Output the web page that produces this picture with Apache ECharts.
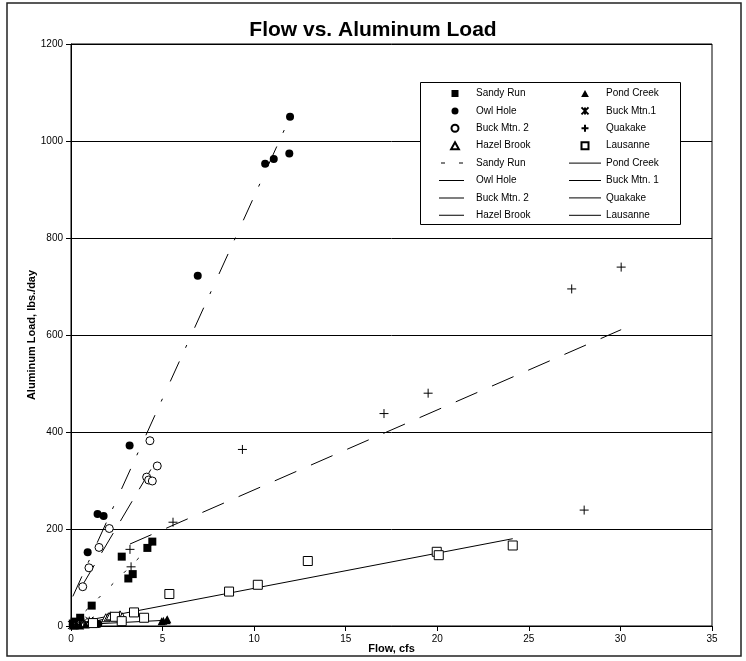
<!DOCTYPE html>
<html>
<head>
<meta charset="utf-8">
<script src="https://cdn.jsdelivr.net/npm/echarts@6/dist/echarts.min.js"></script>
<style>
  html, body { margin: 0; padding: 0; background: #fff; }
  #chart { width: 746px; height: 661px; }
</style>
</head>
<body>
<div id="chart"></div>
<script>
// Axis ticks
const flowTicks = [0, 5, 10, 15, 20, 25, 30, 35];
const loadTicks = [0, 200, 400, 600, 800, 1000, 1200];

// Station samples: [flow (cfs), aluminum load (lbs./day)]
const sandyRun   = [[0.1, 5], [0.2, 9], [0.3, 3], [0.5, 17], [1.13, 42], [2.77, 143], [3.13, 98], [3.37, 107], [4.17, 161], [4.44, 174]];
const owlHole    = [[0.1, 3], [0.3, 6], [1.49, 4], [0.91, 152], [1.45, 231], [1.78, 227], [3.2, 372], [6.92, 722], [10.6, 953], [11.07, 963], [11.92, 974], [11.96, 1050]];
const buckMtn2   = [[0.64, 81], [0.98, 120], [1.53, 162], [2.09, 201], [4.13, 307], [4.24, 301], [4.31, 382], [4.44, 299], [4.71, 330]];
const hazelBrook = [[0.2, 2], [0.4, 4], [0.7, 5], [1.0, 7], [1.22, 9], [1.9, 17], [2.04, 19], [2.15, 21], [2.68, 23], [2.8, 19]];
const pondCreek  = [[0.1, 1], [0.3, 2], [0.5, 1], [0.8, 3], [4.95, 10], [5.04, 11], [5.22, 12], [5.26, 14]];
const buckMtn1   = [[0.05, 2], [0.15, 4], [0.3, 7], [0.45, 5], [0.7, 9], [1.0, 11]];
const quakake    = [[3.22, 158], [3.28, 122], [5.57, 214], [9.36, 364], [17.09, 438], [19.5, 480], [27.34, 695], [28.02, 239], [30.04, 740]];
const lausanne   = [[1.2, 6], [2.4, 19], [2.77, 10], [3.44, 28], [3.99, 17], [5.37, 66], [8.63, 71], [10.2, 85], [12.93, 134], [19.97, 153], [20.08, 146], [24.12, 166]];

// Linear trend lines: [start, end] as [flow, load]
const sandyRunTrend   = [[0.1, 5], [4.44, 168]];
const owlHoleTrend    = [[0.1, 61], [11.96, 1049]];
const buckMtn2Trend   = [[0.64, 85], [4.71, 345]];
const hazelBrookTrend = [[0.2, 1], [2.8, 22]];
const pondCreekTrend  = [[0.1, 2], [5.26, 12]];
const buckMtn1Trend   = [[0.05, 3], [1.0, 10]];
const quakakeTrend    = [[3.22, 169], [30.04, 611]];
const lausanneTrend   = [[1.2, 14], [24.12, 180]];

const FONT = '"Liberation Sans", Arial, Helvetica, sans-serif';
const TREND = '~';   // suffix that keeps trend series names distinct in the legend

// Marker shapes
const STAR   = 'path://M0,0L10,10M10,0L0,10M5,0L5,10';
const PLUS   = 'path://M5,0L5,10M0,5L10,5';
const SQUARE = 'path://M0,0h10v10h-10z';
const DISC   = 'path://M0,5a5,5 0 1,0 10,0a5,5 0 1,0 -10,0z';
const TRI    = 'path://M5,0L10,9L0,9z';

// Legend line samples (thin bars; zero-width slivers pad the sample box)
const SAMPLE_SHORT  = 'path://M0,0h25v1h-25zM31.99,0h0.01v1h-0.01z';
const SAMPLE_LONG   = 'path://M0,0h32v1h-32z';
const SAMPLE_DASHED = 'path://M0,0h0.01v1h-0.01zM2,0h4v1h-4zM20,0h4v1h-4zM31.99,0h0.01v1h-0.01z';

const markers = [
  { name: 'Sandy Run',   data: sandyRun,   symbol: 'rect',     size: 8, fill: '#000', icon: SQUARE },
  { name: 'Owl Hole',    data: owlHole,    symbol: 'circle',   size: 8, fill: '#000', icon: DISC },
  { name: 'Buck Mtn. 2', data: buckMtn2,   symbol: 'circle',   size: 8, fill: '#fff', icon: DISC },
  { name: 'Hazel Brook', data: hazelBrook, symbol: 'triangle', size: 8, fill: '#fff', icon: TRI },
  { name: 'Pond Creek',  data: pondCreek,  symbol: 'triangle', size: 8, fill: '#000', icon: TRI },
  { name: 'Buck Mtn.1',  data: buckMtn1,   symbol: STAR,       size: 8, fill: 'rgba(0,0,0,0)', icon: STAR },
  { name: 'Quakake',     data: quakake,    symbol: PLUS,       size: 9, fill: 'rgba(0,0,0,0)', icon: PLUS },
  { name: 'Lausanne',    data: lausanne,   symbol: 'rect',     size: 9, fill: '#fff', icon: SQUARE }
];

const trends = [
  { name: 'Sandy Run',   data: sandyRunTrend,   dash: [3, 15],          icon: SAMPLE_DASHED },
  { name: 'Owl Hole',    data: owlHoleTrend,    dash: [22, 15, 3, 19],  icon: SAMPLE_SHORT },
  { name: 'Buck Mtn. 2', data: buckMtn2Trend,   dash: [23, 14],         icon: SAMPLE_SHORT },
  { name: 'Hazel Brook', data: hazelBrookTrend, dash: 'solid',          icon: SAMPLE_SHORT },
  { name: 'Pond Creek',  data: pondCreekTrend,  dash: 'solid',          icon: SAMPLE_LONG },
  { name: 'Buck Mtn. 1', data: buckMtn1Trend,   dash: 'solid',          icon: SAMPLE_LONG },
  { name: 'Quakake',     data: quakakeTrend,    dash: [23.5, 16],       icon: SAMPLE_LONG },
  { name: 'Lausanne',    data: lausanneTrend,   dash: 'solid',          icon: SAMPLE_LONG }
];

const series = [];
trends.forEach(t => series.push({
  name: t.name + TREND,
  type: 'line',
  data: t.data,
  symbol: 'none',
  silent: true,
  z: 3,
  lineStyle: { color: '#000', width: 1, type: t.dash },
  itemStyle: { color: '#000', borderWidth: 0 }
}));
markers.forEach(m => series.push({
  name: m.name,
  type: 'scatter',
  data: m.data,
  symbol: m.symbol,
  symbolSize: m.size,
  z: 4,
  itemStyle: { color: m.fill, borderColor: '#000', borderWidth: m.fill === '#000' ? 0 : 1, opacity: 1 }
}));

const legendItem = (entry, isTrend) => ({
  name: isTrend ? entry.name + TREND : entry.name,
  icon: entry.icon
});

const legendBase = {
  orient: 'vertical',
  selectedMode: false,
  padding: 0,
  itemWidth: 32,
  itemHeight: 7,
  itemGap: 7.4,
  symbolKeepAspect: true,
  z: 6,
  textStyle: { fontFamily: FONT, fontSize: 10, color: '#000' },
  formatter: n => n.replace(TREND, '')
};

const chart = echarts.init(document.getElementById('chart'), null, { renderer: 'canvas' });
chart.setOption({
  animation: false,
  backgroundColor: '#fff',
  title: {
    text: 'Flow vs. Aluminum Load',
    left: 'center',
    top: 20,
    padding: 0,
    textStyle: { fontFamily: FONT, fontSize: 21, fontWeight: 'bold', color: '#000' }
  },
  grid: {
    left: 71, top: 44, width: 641, height: 582,
    outerBoundsMode: 'none',
    show: true, borderColor: '#000', borderWidth: 1, backgroundColor: '#fff'
  },
  xAxis: {
    type: 'value',
    min: flowTicks[0], max: flowTicks[flowTicks.length - 1], interval: flowTicks[1] - flowTicks[0],
    name: 'Flow, cfs', nameLocation: 'middle', nameGap: 17, nameMoveOverlap: false,
    nameTextStyle: { fontFamily: FONT, fontSize: 11, fontWeight: 'bold', color: '#000' },
    axisLine: { show: true, onZero: false, lineStyle: { color: '#000', width: 1 } },
    axisTick: { show: true, inside: false, length: 5, lineStyle: { color: '#000' } },
    axisLabel: { fontFamily: FONT, fontSize: 10, color: '#000', margin: 8, formatter: v => String(v) },
    splitLine: { show: false }
  },
  yAxis: {
    type: 'value',
    min: loadTicks[0], max: loadTicks[loadTicks.length - 1], interval: loadTicks[1] - loadTicks[0],
    name: 'Aluminum Load, lbs./day', nameLocation: 'middle', nameGap: 34, nameRotate: 90,
    nameMoveOverlap: false,
    nameTextStyle: { fontFamily: FONT, fontSize: 11, fontWeight: 'bold', color: '#000' },
    axisLine: { show: true, onZero: false, lineStyle: { color: '#000', width: 1 } },
    axisTick: { show: true, inside: false, length: 5, lineStyle: { color: '#000' } },
    axisLabel: { fontFamily: FONT, fontSize: 10, color: '#000', margin: 8, formatter: v => String(v) },
    splitLine: { show: true, lineStyle: { color: '#000', width: 1 } }
  },
  legend: [
    Object.assign({}, legendBase, {
      left: 439, top: 88.5,
      data: markers.slice(0, 4).map(m => legendItem(m, false))
        .concat(trends.slice(0, 4).map(t => legendItem(t, true)))
    }),
    Object.assign({}, legendBase, {
      left: 569, top: 88.5,
      data: markers.slice(4).map(m => legendItem(m, false))
        .concat(trends.slice(4).map(t => legendItem(t, true)))
    })
  ],
  graphic: [
    { type: 'rect', z: 0, silent: true,
      shape: { x: 7, y: 3, width: 734, height: 653 },
      style: { fill: 'none', stroke: '#222', lineWidth: 1.5 } },
    { type: 'rect', z: 5, silent: true,
      shape: { x: 420.5, y: 82.5, width: 260, height: 142 },
      style: { fill: '#fff', stroke: '#000', lineWidth: 1 } }
  ],
  series: series
});
</script>
</body>
</html>
